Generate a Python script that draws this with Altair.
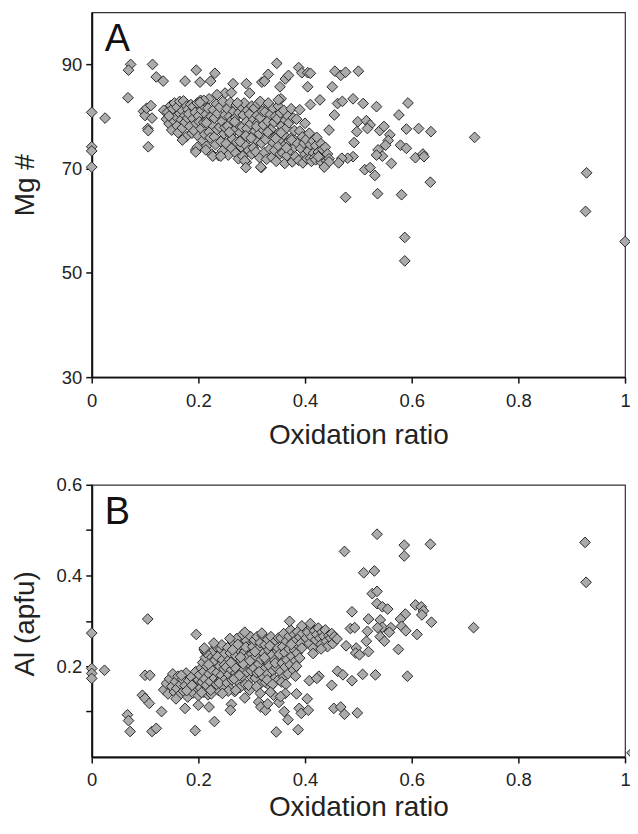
import altair as alt
import pandas as pd

# ---------------- Panel A : Mg # vs oxidation ratio ----------------
a_band1_x = [0.135,0.14,0.142,0.145,0.148,0.15,0.15,0.152,0.155,0.155,0.158,0.16,0.16,0.162,0.165,0.165,0.168,0.17,0.17,0.172,0.175,0.175,0.178,0.178,0.18,0.18,0.145,0.17]
a_band1_y = [81.2,79.5,80.8,78.6,82.1,80.3,77.4,81.5,79.1,82.6,80.0,78.2,81.8,76.9,80.6,82.9,79.4,77.8,81.1,83.0,80.2,78.9,76.2,82.0,79.7,81.4,80.1,75.5]

a_band2_x = [0.182,0.184,0.186,0.188,0.19,0.19,0.192,0.194,0.195,0.196,0.198,0.2,0.2,0.202,0.204,0.205,0.206,0.208,0.21,0.21,0.212,0.214,0.215,0.216,0.218,0.22,0.22,0.222,0.224,0.225,0.226,0.228,0.23,0.23,0.232,0.234,0.235,0.236,0.238,0.24,0.24,0.242,0.244,0.245,0.246,0.248,0.25,0.25,0.198,0.215]
a_band2_y = [80.5,78.1,82.3,76.8,79.6,81.9,77.3,80.8,73.6,78.7,82.6,76.2,80.1,79.0,83.1,77.7,81.2,75.4,78.9,82.0,76.6,80.4,74.3,79.3,81.6,77.0,83.4,75.9,80.0,72.8,78.4,81.3,76.1,79.7,74.6,82.4,77.5,80.6,72.5,78.0,81.8,75.2,79.1,73.4,82.9,76.7,80.3,77.9,74.1,78.8]

a_band3_x = [0.252,0.254,0.255,0.256,0.258,0.26,0.26,0.262,0.263,0.264,0.266,0.268,0.27,0.27,0.271,0.272,0.274,0.275,0.276,0.278,0.28,0.28,0.282,0.283,0.284,0.285,0.286,0.288,0.29,0.29,0.291,0.292,0.294,0.295,0.296,0.298,0.3,0.3,0.302,0.303,0.304,0.305,0.306,0.308,0.31,0.31,0.311,0.312,0.314,0.315,0.316,0.318,0.32,0.32,0.258,0.268,0.278,0.289,0.299,0.309]
a_band3_y = [74.8,81.5,78.2,72.6,80.0,76.5,82.7,73.9,79.3,75.7,81.0,77.4,73.0,79.8,82.2,75.1,78.5,71.9,80.7,76.9,74.2,81.9,78.0,72.4,80.3,76.0,82.6,74.6,79.0,71.2,77.7,81.2,73.5,75.8,80.5,78.6,72.8,82.0,76.4,74.0,79.5,81.6,77.2,73.2,80.2,75.4,78.8,82.5,76.7,72.1,79.8,74.9,81.0,77.6,77.0,79.0,75.2,76.3,75.9,78.1]

a_band4_x = [0.322,0.324,0.325,0.326,0.328,0.33,0.33,0.332,0.334,0.335,0.336,0.338,0.34,0.34,0.342,0.343,0.344,0.345,0.346,0.348,0.35,0.35,0.352,0.353,0.354,0.355,0.356,0.358,0.36,0.36,0.362,0.363,0.364,0.365,0.366,0.368,0.37,0.37,0.372,0.374,0.375,0.376,0.378,0.38,0.38,0.33,0.345,0.355,0.365,0.375]
a_band4_y = [78.4,73.1,80.9,75.6,71.8,79.1,82.3,76.8,73.8,80.4,77.5,72.2,81.6,75.0,78.9,73.5,80.0,76.2,71.4,79.6,74.4,82.0,77.0,72.8,80.7,75.7,78.2,73.0,81.2,76.5,71.0,79.3,74.7,77.8,72.5,80.1,75.3,78.8,73.6,81.5,76.0,71.3,79.7,74.1,77.3,77.0,75.8,76.9,74.0,75.5]

a_band5_x = [0.382,0.384,0.386,0.388,0.39,0.39,0.392,0.395,0.396,0.398,0.4,0.4,0.402,0.404,0.406,0.408,0.41,0.41,0.412,0.415,0.416,0.418,0.42,0.42,0.422,0.425,0.428,0.43,0.43,0.433,0.436,0.438,0.44,0.442,0.445]
a_band5_y = [72.3,79.5,74.8,71.6,77.2,81.3,73.9,76.1,71.1,74.9,72.8,78.7,75.6,71.9,73.4,76.8,72.0,74.6,71.4,75.3,73.0,72.1,74.4,71.7,76.0,73.2,72.6,74.8,71.3,73.7,72.2,74.1,71.5,72.8,71.9]

a_scatter = [
    (0.0, 80.8), (0.0, 74.2), (0.0, 73.4), (0.0, 70.3), (0.025, 79.7),
    (0.068, 83.6), (0.073, 90.0), (0.069, 88.9), (0.114, 90.0), (0.121, 87.6), (0.134, 86.8),
    (0.097, 81.0), (0.1, 80.2), (0.103, 81.6), (0.111, 82.1), (0.113, 79.7), (0.105, 77.7), (0.106, 77.3), (0.106, 74.2),
    (0.175, 86.8), (0.196, 88.9), (0.231, 88.3), (0.223, 86.8), (0.203, 86.6), (0.265, 86.3), (0.29, 86.3),
    (0.296, 84.5), (0.25, 84.5), (0.262, 84.6), (0.235, 84.2),
    (0.347, 90.2), (0.319, 86.6), (0.324, 86.8), (0.331, 88.1), (0.363, 87.2), (0.369, 87.9), (0.388, 89.4),
    (0.394, 88.4), (0.405, 88.4), (0.353, 85.7), (0.355, 83.4), (0.35, 83.2), (0.405, 85.7), (0.316, 82.9),
    (0.331, 82.6), (0.21, 83.1), (0.203, 82.7), (0.273, 82.6), (0.41, 82.3),
    (0.195, 73.2), (0.214, 73.6), (0.227, 72.4), (0.242, 72.4), (0.287, 71.5), (0.318, 70.2), (0.289, 70.2), (0.317, 70.3),
    (0.456, 88.7), (0.467, 87.9), (0.476, 88.5), (0.5, 88.7), (0.451, 85.7), (0.41, 88.3), (0.428, 83.2),
    (0.461, 82.5), (0.47, 82.9), (0.49, 83.4), (0.509, 82.5), (0.534, 81.9), (0.593, 82.6), (0.576, 80.3),
    (0.455, 80.3), (0.445, 77.4),
    (0.499, 79.0), (0.515, 79.2), (0.522, 78.4), (0.517, 77.7), (0.497, 77.1), (0.492, 75.0),
    (0.54, 77.3), (0.548, 78.1), (0.559, 76.5), (0.556, 75.4), (0.551, 74.5), (0.537, 73.6), (0.545, 72.4), (0.534, 72.6),
    (0.59, 77.6), (0.613, 77.7), (0.636, 77.1), (0.579, 74.5), (0.59, 73.9), (0.607, 72.1), (0.621, 72.8),
    (0.623, 72.3), (0.562, 71.0),
    (0.49, 72.3), (0.48, 72.0), (0.469, 72.0), (0.463, 71.1), (0.445, 71.3), (0.436, 70.3), (0.425, 72.3),
    (0.512, 69.8), (0.522, 70.2), (0.531, 68.7),
    (0.476, 64.5), (0.536, 65.2), (0.581, 65.0), (0.635, 67.4), (0.587, 56.8), (0.587, 52.3),
    (0.718, 76.0), (0.928, 69.2), (0.926, 61.8), (1.0, 56.0),
]

# ---------------- Panel B : Al (apfu) vs oxidation ratio ----------------
b_band1_x = [0.135,0.14,0.143,0.146,0.15,0.152,0.155,0.157,0.16,0.162,0.165,0.167,0.17,0.172,0.175,0.177,0.18,0.182,0.185,0.187,0.19,0.192,0.195,0.197,0.2,0.2,0.158,0.168,0.178,0.188]
b_band1_y = [0.148,0.162,0.139,0.172,0.155,0.183,0.143,0.166,0.151,0.178,0.137,0.160,0.171,0.145,0.157,0.185,0.132,0.168,0.150,0.176,0.141,0.162,0.188,0.153,0.170,0.135,0.128,0.180,0.146,0.158]

b_band2_x = [0.202,0.204,0.205,0.207,0.208,0.21,0.21,0.212,0.213,0.215,0.216,0.218,0.22,0.22,0.222,0.223,0.225,0.226,0.228,0.23,0.23,0.232,0.233,0.235,0.236,0.238,0.24,0.24,0.242,0.243,0.245,0.246,0.248,0.25,0.25,0.206,0.214,0.224,0.234,0.244,0.219,0.229,0.239,0.249,0.211]
b_band2_y = [0.181,0.152,0.196,0.165,0.208,0.143,0.188,0.172,0.219,0.158,0.199,0.137,0.183,0.226,0.166,0.205,0.149,0.191,0.234,0.174,0.212,0.157,0.243,0.186,0.221,0.146,0.200,0.168,0.238,0.180,0.214,0.155,0.194,0.228,0.171,0.142,0.230,0.139,0.160,0.247,0.204,0.251,0.163,0.203,0.236]

b_band3_x = [0.252,0.254,0.255,0.257,0.258,0.26,0.26,0.262,0.263,0.265,0.266,0.268,0.27,0.27,0.272,0.273,0.275,0.276,0.278,0.28,0.28,0.282,0.283,0.285,0.286,0.288,0.29,0.29,0.292,0.293,0.295,0.296,0.298,0.3,0.3,0.256,0.264,0.274,0.284,0.294,0.259,0.269,0.279,0.289,0.299,0.267,0.277,0.287,0.297,0.261]
b_band3_y = [0.198,0.163,0.241,0.182,0.215,0.150,0.229,0.192,0.170,0.252,0.207,0.144,0.223,0.185,0.261,0.168,0.238,0.200,0.153,0.247,0.212,0.178,0.270,0.194,0.231,0.160,0.256,0.218,0.186,0.243,0.205,0.147,0.265,0.227,0.175,0.145,0.236,0.248,0.205,0.158,0.261,0.197,0.220,0.242,0.190,0.172,0.180,0.275,0.212,0.208]

b_band4_x = [0.302,0.304,0.305,0.307,0.308,0.31,0.31,0.312,0.313,0.315,0.316,0.318,0.32,0.32,0.322,0.323,0.325,0.326,0.328,0.33,0.33,0.332,0.333,0.335,0.336,0.338,0.34,0.34,0.342,0.343,0.345,0.346,0.348,0.35,0.35,0.306,0.314,0.324,0.334,0.344,0.309,0.319,0.329,0.339,0.349]
b_band4_y = [0.243,0.196,0.258,0.174,0.222,0.265,0.185,0.238,0.205,0.160,0.252,0.215,0.178,0.268,0.229,0.193,0.247,0.164,0.212,0.259,0.183,0.236,0.201,0.155,0.265,0.224,0.190,0.248,0.172,0.213,0.256,0.197,0.234,0.170,0.262,0.232,0.188,0.219,0.245,0.207,0.155,0.273,0.170,0.160,0.240]

b_band5_x = [0.352,0.354,0.355,0.357,0.358,0.36,0.36,0.362,0.363,0.365,0.366,0.368,0.37,0.37,0.372,0.373,0.375,0.376,0.378,0.38,0.38,0.382,0.383,0.385,0.386,0.388,0.39,0.39,0.392,0.395,0.356,0.364,0.374,0.384,0.394]
b_band5_y = [0.226,0.188,0.262,0.207,0.243,0.176,0.272,0.230,0.198,0.255,0.214,0.183,0.266,0.238,0.203,0.280,0.222,0.252,0.192,0.270,0.236,0.212,0.258,0.229,0.276,0.245,0.218,0.264,0.250,0.272,0.165,0.160,0.248,0.200,0.240]

b_band6_x = [0.402,0.405,0.408,0.41,0.412,0.415,0.418,0.42,0.422,0.425,0.428,0.43,0.432,0.435,0.438,0.44,0.442,0.445,0.448,0.45,0.452,0.455,0.46,0.415,0.43]
b_band6_y = [0.262,0.275,0.250,0.288,0.265,0.240,0.278,0.258,0.270,0.284,0.262,0.248,0.275,0.266,0.280,0.255,0.243,0.268,0.262,0.272,0.250,0.265,0.260,0.228,0.238]

b_scatter = [
    (0.0, 0.273), (0.0, 0.195), (0.0, 0.184), (0.0, 0.173), (0.024, 0.191), (0.105, 0.304),
    (0.067, 0.093), (0.069, 0.080), (0.072, 0.056), (0.1, 0.18), (0.109, 0.18), (0.095, 0.136), (0.1, 0.129),
    (0.108, 0.118), (0.131, 0.1), (0.113, 0.056), (0.121, 0.063),
    (0.196, 0.27), (0.194, 0.058), (0.23, 0.078), (0.22, 0.11), (0.2, 0.114), (0.175, 0.107), (0.211, 0.24),
    (0.262, 0.116), (0.26, 0.103), (0.287, 0.13), (0.313, 0.121), (0.317, 0.11), (0.326, 0.103), (0.33, 0.117),
    (0.351, 0.12), (0.361, 0.1), (0.368, 0.082), (0.346, 0.055), (0.387, 0.06), (0.389, 0.107), (0.393, 0.096),
    (0.406, 0.103), (0.384, 0.139), (0.404, 0.128), (0.382, 0.178), (0.408, 0.168), (0.426, 0.178), (0.45, 0.158),
    (0.461, 0.189), (0.471, 0.181), (0.488, 0.168), (0.508, 0.182), (0.532, 0.181), (0.592, 0.178),
    (0.454, 0.107), (0.467, 0.11), (0.474, 0.094), (0.498, 0.097),
    (0.363, 0.14), (0.422, 0.173), (0.371, 0.299), (0.394, 0.289), (0.41, 0.294), (0.341, 0.136), (0.354, 0.133),
    (0.316, 0.14), (0.335, 0.143), (0.223, 0.147), (0.245, 0.14), (0.27, 0.147),
    (0.474, 0.453), (0.535, 0.491), (0.586, 0.467), (0.586, 0.443), (0.635, 0.469), (0.51, 0.406), (0.53, 0.41),
    (0.526, 0.36), (0.535, 0.365), (0.535, 0.338), (0.545, 0.331), (0.555, 0.326), (0.607, 0.335), (0.618, 0.331),
    (0.622, 0.322), (0.619, 0.313), (0.637, 0.297), (0.588, 0.315), (0.579, 0.304), (0.488, 0.32), (0.519, 0.304),
    (0.541, 0.302), (0.545, 0.286), (0.536, 0.285), (0.561, 0.285), (0.558, 0.275), (0.581, 0.288), (0.589, 0.278),
    (0.61, 0.27), (0.541, 0.265), (0.549, 0.255), (0.575, 0.237), (0.517, 0.277), (0.515, 0.255), (0.519, 0.232),
    (0.485, 0.283), (0.493, 0.285), (0.477, 0.245), (0.496, 0.24), (0.495, 0.229), (0.502, 0.225),
    (0.716, 0.285), (0.925, 0.473), (0.927, 0.385), (1.013, 0.009),
]

x_ticks = [0, 0.2, 0.4, 0.6, 0.8, 1]
a_y_ticks = [30, 50, 70, 90]
b_y_ticks = [0.1, 0.2, 0.3, 0.4, 0.5, 0.6]


def build_df(xs_list, ys_list, pairs):
    xs, ys = [], []
    for xl, yl in zip(xs_list, ys_list):
        assert len(xl) == len(yl)
        xs += xl
        ys += yl
    xs += [p[0] for p in pairs]
    ys += [p[1] for p in pairs]
    return pd.DataFrame({"x": xs, "y": ys})


df_a = build_df([a_band1_x, a_band2_x, a_band3_x, a_band4_x, a_band5_x],
                [a_band1_y, a_band2_y, a_band3_y, a_band4_y, a_band5_y], a_scatter)
df_b = build_df([b_band1_x, b_band2_x, b_band3_x, b_band4_x, b_band5_x, b_band6_x],
                [b_band1_y, b_band2_y, b_band3_y, b_band4_y, b_band5_y, b_band6_y], b_scatter)

NUM_FONT = "Liberation Sans, Arial"
TXT_FONT = "Liberation Sans, Arial"


def panel(df, ydom, yvals, ytitle, h, letter, title_pad, title_y, ylabel_expr=None):
    yaxis_kwargs = dict(values=yvals, title=ytitle, minExtent=30, maxExtent=30,
                        titlePadding=22, titleY=title_y)
    if ylabel_expr:
        yaxis_kwargs["labelExpr"] = ylabel_expr
    pts = alt.Chart(df).mark_point(
        shape="diamond", filled=True, size=115, fill="#ababab", stroke="#2a2a2a",
        strokeWidth=1, opacity=1,
    ).encode(
        x=alt.X("x:Q", scale=alt.Scale(domain=[0, 1], nice=False, zero=False),
                axis=alt.Axis(values=x_ticks, format="~g", title="Oxidation ratio",
                              titlePadding=title_pad, labelFlush=False, labelOverlap=False)),
        y=alt.Y("y:Q", scale=alt.Scale(domain=ydom, nice=False, zero=False),
                axis=alt.Axis(**yaxis_kwargs)),
    )
    lab = alt.Chart(pd.DataFrame({"t": [letter]})).mark_text(
        font=TXT_FONT, fontSize=38, align="left", baseline="alphabetic", color="#111"
    ).encode(x=alt.value(13), y=alt.value(39), text="t:N")
    return alt.layer(pts, lab).properties(width=535, height=h)


chart_a = panel(df_a, [30, 100], a_y_ticks, "Mg #", 366, "A", 12, 173)
chart_b = panel(df_b, [0, 0.6], b_y_ticks, "Al (apfu)", 273, "B", 4, 139,
                ylabel_expr="round(datum.value*10) % 2 == 0 ? format(datum.value, '.1f') : ''")

chart = alt.vconcat(
    chart_a, chart_b, spacing=24,
    padding={"left": 3, "top": 2, "right": -10, "bottom": 0},
).configure_view(
    stroke="#333", strokeWidth=1.2
).configure_axis(
    domainColor="#111", domainWidth=2, tickColor="#111", tickWidth=1.5, tickSize=6,
    labelFont=NUM_FONT, labelFontSize=18.5, labelColor="#222",
    titleFont=TXT_FONT, titleFontSize=28, titleFontWeight="normal", titleColor="#222",
    grid=False,
).configure_axisX(labelPadding=8).configure_axisY(labelPadding=4)

chart.save("out.html", embed_options={"renderer": "svg", "actions": False})
